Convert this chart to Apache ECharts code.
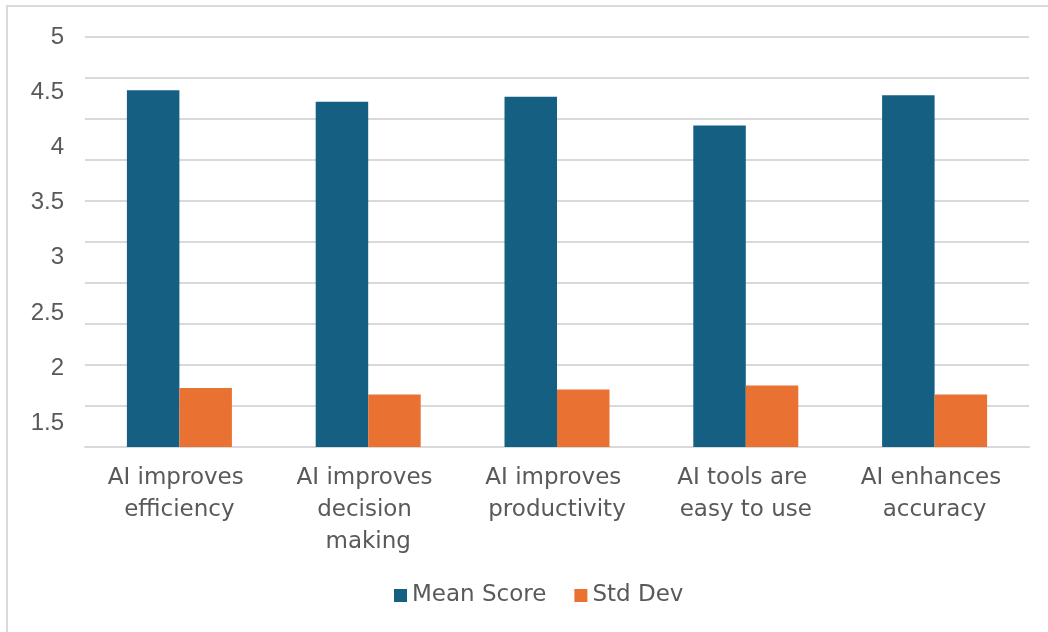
<!DOCTYPE html>
<html>
<head>
<meta charset="utf-8">
<title>AI perception survey</title>
<script src="https://cdn.jsdelivr.net/npm/echarts@6/dist/echarts.min.js"></script>
<style>
  html, body { margin: 0; padding: 0; background: #ffffff; }
  #chart { width: 1048px; height: 632px; }
</style>
</head>
<body>
<div id="chart"></div>
<script>
// Survey statements and their scores
const categories = [
  'AI improves efficiency',
  'AI improves decision making',
  'AI improves productivity',
  'AI tools are easy to use',
  'AI enhances accuracy'
];
const meanScore = [4.35, 4.21, 4.27, 3.92, 4.29];
const stdDev = [0.72, 0.64, 0.70, 0.75, 0.64];
const valueTicks = [1.5, 2, 2.5, 3, 3.5, 4, 4.5, 5];

const NUM_FONT = '"Liberation Sans", Arial, sans-serif';
const LABEL_FONT = '"DejaVu Sans", Verdana, sans-serif';
const TEXT = '#595959';
const GRID = '#d9d9d9';

const chart = echarts.init(document.getElementById('chart'), null, { renderer: 'canvas' });

chart.setOption({
  backgroundColor: '#ffffff',
  animation: false,
  textStyle: { fontFamily: LABEL_FONT },
  graphic: [{
    type: 'rect',
    shape: { x: 7, y: 6, width: 1100, height: 700 },
    style: { fill: 'none', stroke: GRID, lineWidth: 2 },
    silent: true
  }],
  grid: { left: 85, right: 19, top: 37, bottom: 185, containLabel: false },
  legend: {
    left: 389,
    top: 579,
    itemWidth: 13,
    itemHeight: 13,
    itemGap: 28,
    icon: 'rect',
    textStyle: { color: TEXT, fontSize: 23, fontFamily: LABEL_FONT },
    data: ['Mean Score', 'Std Dev']
  },
  xAxis: {
    type: 'category',
    data: categories,
    axisLine: { show: true, lineStyle: { color: GRID, width: 2 } },
    axisTick: { show: false },
    axisLabel: {
      color: TEXT,
      fontSize: 23,
      fontFamily: LABEL_FONT,
      lineHeight: 32,
      margin: 15,
      width: 172,
      overflow: 'break',
      interval: 0,
      align: 'center'
    }
  },
  yAxis: [{
    type: 'value',
    min: 0,
    max: 5,
    interval: 0.5,
    axisLine: { show: false },
    axisTick: { show: false },
    axisLabel: { show: false },
    splitLine: { show: true, lineStyle: { color: GRID, width: 2 } }
  }, {
    type: 'value',
    position: 'left',
    min: 1.282,
    max: 5.006,
    axisLine: { show: false },
    axisTick: { show: false },
    splitLine: { show: false },
    axisLabel: {
      customValues: valueTicks,
      color: TEXT,
      fontSize: 24,
      fontFamily: NUM_FONT,
      margin: 21
    }
  }],
  series: [{
    name: 'Mean Score',
    type: 'bar',
    yAxisIndex: 0,
    data: meanScore,
    barWidth: 52.5,
    barGap: '0%',
    itemStyle: { color: '#156082' }
  }, {
    name: 'Std Dev',
    type: 'bar',
    yAxisIndex: 0,
    data: stdDev,
    barWidth: 52.5,
    itemStyle: { color: '#E97132' }
  }]
});
</script>
</body>
</html>
